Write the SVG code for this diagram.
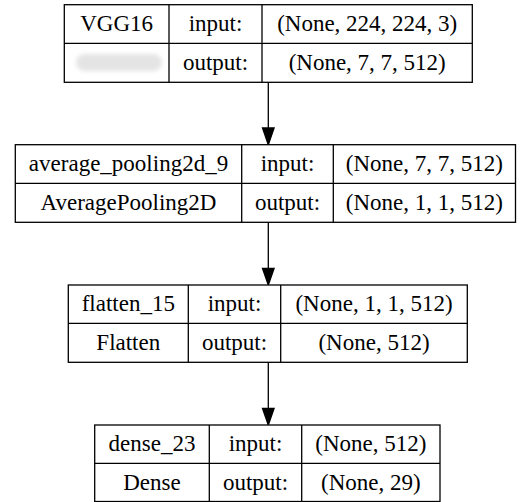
<svg xmlns="http://www.w3.org/2000/svg" width="520" height="502" viewBox="0 0 520 502">
<defs>
<style>
.b{fill:#fff;stroke:#000;stroke-width:1.3}
.l{stroke:#000;stroke-width:1.3;fill:none}
.t text{font-size:23px;fill:#000;text-anchor:middle}
.e{stroke:#000;stroke-width:1.3;fill:none}
.h{fill:#000;stroke:#000;stroke-width:1.3}
</style>
<filter id="blur" x="-20%" y="-50%" width="140%" height="200%"><feGaussianBlur stdDeviation="2"/></filter>
</defs>
<rect width="520" height="502" fill="#fff"/>
<g id="connectors">
<line class="e" x1="268.3" y1="82.3" x2="268.3" y2="128"/>
<polygon class="h" points="262.5,128 274.1,128 268.3,144.7"/>
<line class="e" x1="268.3" y1="222.3" x2="268.3" y2="268.3"/>
<polygon class="h" points="262.5,268.3 274.1,268.3 268.3,285"/>
<line class="e" x1="268.3" y1="362.3" x2="268.3" y2="408.3"/>
<polygon class="h" points="262.5,408.3 274.1,408.3 268.3,425"/>
</g>
<g id="vgg16" class="t" font-family="'Liberation Serif', 'DejaVu Serif', serif">
<rect class="b" x="64.3" y="4.7" width="408" height="77.6"/>
<line class="l" x1="64.3" y1="43.3" x2="472.3" y2="43.3"/>
<line class="l" x1="169" y1="4.7" x2="169" y2="82.3"/>
<line class="l" x1="262" y1="4.7" x2="262" y2="82.3"/>
<rect x="76" y="54" width="86" height="17" rx="8.5" fill="#e4e4e4" filter="url(#blur)"/>
<text x="116.6" y="31">VGG16</text>
<text x="215.5" y="31">input:</text>
<text x="367.2" y="31">(None, 224, 224, 3)</text>
<text x="215.5" y="70">output:</text>
<text x="367.2" y="70">(None, 7, 7, 512)</text>
</g>
<g id="average_pooling2d_9" class="t" font-family="'Liberation Serif', 'DejaVu Serif', serif">
<rect class="b" x="15.3" y="144.7" width="500.2" height="77.6"/>
<line class="l" x1="15.3" y1="183.3" x2="515.5" y2="183.3"/>
<line class="l" x1="241.7" y1="144.7" x2="241.7" y2="222.3"/>
<line class="l" x1="333.3" y1="144.7" x2="333.3" y2="222.3"/>
<text x="128.5" y="171">average_pooling2d_9</text>
<text x="287.5" y="171">input:</text>
<text x="424.4" y="171">(None, 7, 7, 512)</text>
<text x="128.5" y="210">AveragePooling2D</text>
<text x="287.5" y="210">output:</text>
<text x="424.4" y="210">(None, 1, 1, 512)</text>
</g>
<g id="flatten_15" class="t" font-family="'Liberation Serif', 'DejaVu Serif', serif">
<rect class="b" x="68.3" y="285" width="399" height="77.3"/>
<line class="l" x1="68.3" y1="323.3" x2="467.3" y2="323.3"/>
<line class="l" x1="188.3" y1="285" x2="188.3" y2="362.3"/>
<line class="l" x1="280.7" y1="285" x2="280.7" y2="362.3"/>
<text x="128.3" y="311">flatten_15</text>
<text x="234.5" y="311">input:</text>
<text x="374" y="311">(None, 1, 1, 512)</text>
<text x="128.3" y="350">Flatten</text>
<text x="234.5" y="350">output:</text>
<text x="374" y="350">(None, 512)</text>
</g>
<g id="dense_23" class="t" font-family="'Liberation Serif', 'DejaVu Serif', serif">
<rect class="b" x="94.7" y="425" width="345.3" height="76.5"/>
<line class="l" x1="94.7" y1="463.3" x2="440" y2="463.3"/>
<line class="l" x1="209.3" y1="425" x2="209.3" y2="501.5"/>
<line class="l" x1="301.7" y1="425" x2="301.7" y2="501.5"/>
<text x="152" y="451">dense_23</text>
<text x="255.5" y="451">input:</text>
<text x="370.8" y="451">(None, 512)</text>
<text x="152" y="490">Dense</text>
<text x="255.5" y="490">output:</text>
<text x="370.8" y="490">(None, 29)</text>
</g>
</svg>
